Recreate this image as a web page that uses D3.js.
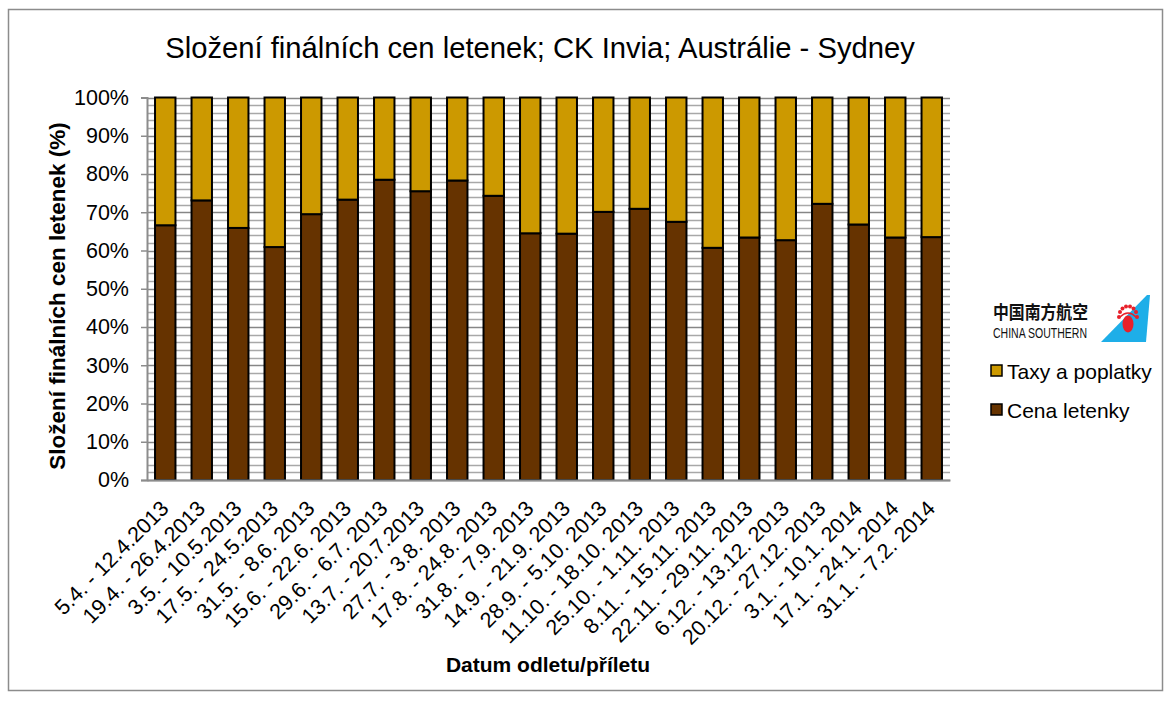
<!DOCTYPE html>
<html>
<head>
<meta charset="utf-8">
<script src="https://cdn.jsdelivr.net/npm/d3@7"></script>
<style>
  html, body { margin: 0; padding: 0; background: #fff; }
  svg { display: block; font-family: "Liberation Sans", Arial, sans-serif; }
</style>
</head>
<body>
<svg id="chart" width="1171" height="704"></svg>
<script>
// ---- data ----
const categories = [
  "5.4. - 12.4.2013", "19.4. - 26.4.2013", "3.5. - 10.5.2013", "17.5. - 24.5.2013",
  "31.5. - 8.6. 2013", "15.6. - 22.6. 2013", "29.6. - 6.7. 2013", "13.7. - 20.7.2013",
  "27.7. - 3.8. 2013", "17.8. - 24.8. 2013", "31.8. - 7.9. 2013", "14.9. - 21.9. 2013",
  "28.9. - 5.10. 2013", "11.10. - 18.10. 2013", "25.10. - 1.11. 2013", "8.11. - 15.11. 2013",
  "22.11. - 29.11. 2013", "6.12. - 13.12. 2013", "20.12. - 27.12. 2013", "3.1. - 10.1. 2014",
  "17.1. - 24.1. 2014", "31.1. - 7.2. 2014"
];
const cenaLetenky = [66.6, 73.1, 65.9, 60.9, 69.5, 73.3, 78.5, 75.5, 78.3, 74.3, 64.5,
                     64.4, 70.1, 70.9, 67.5, 60.7, 63.4, 62.7, 72.2, 66.8, 63.4, 63.5];
const taxyPoplatky = [33.4, 26.9, 34.1, 39.1, 30.5, 26.7, 21.5, 24.5, 21.7, 25.7, 35.5,
                      35.6, 29.9, 29.1, 32.5, 39.3, 36.6, 37.3, 27.8, 33.2, 36.6, 36.5];
const seriesNames = ["Cena letenky", "Taxy a poplatky"];
const seriesColors = ["#663300", "#CC9900"];
const yTicks = [0, 0.1, 0.2, 0.3, 0.4, 0.5, 0.6, 0.7, 0.8, 0.9, 1.0];
const minorTicks = d3.range(0, 51).map(i => i / 50);

const titleText = "Složení finálních cen letenek; CK Invia; Austrálie - Sydney";
const yTitle = "Složení finálních cen letenek (%)";
const xTitle = "Datum odletu/příletu";

// ---- layout ----
const svg = d3.select("#chart");
const W = 1171, H = 704;
const plot = { left: 147, right: 950, top: 97.5, bottom: 480 };

svg.append("rect").attr("width", W).attr("height", H).attr("fill", "#fff");
svg.append("rect").attr("x", 8.5).attr("y", 9.5).attr("width", 1154).attr("height", 681)
  .attr("fill", "none").attr("stroke", "#8c8c8c").attr("stroke-width", 1.5);

const rows = categories.map((c, i) => ({ cat: c, "Cena letenky": cenaLetenky[i], "Taxy a poplatky": taxyPoplatky[i] }));
const stack = d3.stack().keys(seriesNames).offset(d3.stackOffsetExpand);
const stacked = stack(rows);

const x = d3.scaleBand().domain(categories).range([plot.left, plot.right])
  .paddingInner(0.44).paddingOuter(0.22);
const y = d3.scaleLinear().domain([0, 1]).range([plot.bottom, plot.top]);

// gridlines
const g = svg.append("g");
g.selectAll("line.minor").data(minorTicks.filter(t => Math.round(t * 50) % 5 !== 0)).join("line")
  .attr("x1", plot.left).attr("x2", plot.right)
  .attr("y1", d => Math.round(y(d)) + 0.5).attr("y2", d => Math.round(y(d)) + 0.5)
  .attr("stroke", "#a8a8a8").attr("stroke-width", 1.4);
g.selectAll("line.major").data(yTicks).join("line")
  .attr("x1", plot.left).attr("x2", plot.right)
  .attr("y1", d => Math.round(y(d)) + 0.5).attr("y2", d => Math.round(y(d)) + 0.5)
  .attr("stroke", "#868686").attr("stroke-width", 1.6);

// bars
svg.append("g").selectAll("g").data(stacked).join("g")
  .attr("fill", (d, i) => seriesColors[i])
  .selectAll("rect").data(d => d).join("rect")
  .attr("x", d => x(d.data.cat))
  .attr("width", x.bandwidth())
  .attr("y", d => y(d[1]))
  .attr("height", d => y(d[0]) - y(d[1]))
  .attr("stroke", "#000").attr("stroke-width", 2);

// y axis
const yAxis = d3.axisLeft(y).tickValues(yTicks).tickFormat(d3.format(".0%")).tickSize(6).tickPadding(12);
const ya = svg.append("g").attr("transform", `translate(${plot.left},0)`).call(yAxis);
ya.select(".domain").attr("stroke", "#8c8c8c").attr("stroke-width", 2);
ya.selectAll(".tick line").attr("stroke", "#8c8c8c").attr("stroke-width", 1.5);
ya.selectAll(".tick text").attr("font-size", 21.5).attr("fill", "#000")
  .attr("font-family", "Liberation Sans, Arial, sans-serif");

// x axis
const xAxis = d3.axisBottom(x).tickSize(0).tickPadding(0);
const xa = svg.append("g").attr("transform", `translate(0,${plot.bottom})`).call(xAxis);
xa.select(".domain").attr("stroke", "#8c8c8c").attr("stroke-width", 2);
xa.selectAll(".tick text")
  .attr("font-size", 21.5).attr("fill", "#000")
  .attr("font-family", "Liberation Sans, Arial, sans-serif")
  .attr("text-anchor", "end")
  .attr("dy", "0.71em")
  .attr("transform", "translate(-6,19) rotate(-45)");

// titles
svg.append("text").attr("x", 540).attr("y", 58).attr("text-anchor", "middle")
  .attr("font-size", 29.2).attr("fill", "#000").text(titleText);
svg.append("text").attr("transform", "translate(65,296) rotate(-90)").attr("text-anchor", "middle")
  .attr("font-size", 22.5).attr("font-weight", "bold").attr("fill", "#000").text(yTitle);
svg.append("text").attr("x", 548).attr("y", 672).attr("text-anchor", "middle")
  .attr("font-size", 21).attr("font-weight", "bold").attr("fill", "#000").text(xTitle);

// logo
const logo = svg.append("g");
logo.append("text").attr("x", 993).attr("y", 319)
  .attr("font-family", "Noto Sans CJK SC").attr("font-weight", "bold").attr("font-size", 18)
  .attr("textLength", 95).attr("lengthAdjust", "spacingAndGlyphs").attr("fill", "#111").text("中国南方航空");
logo.append("text").attr("x", 993).attr("y", 337.5)
  .attr("font-family", "Liberation Sans Narrow, Liberation Sans, sans-serif").attr("font-size", 14)
  .attr("textLength", 94).attr("lengthAdjust", "spacingAndGlyphs").attr("fill", "#111").text("CHINA SOUTHERN");
logo.append("polygon").attr("points", "1101,342 1147,295 1150,295 1146,342").attr("fill", "#1EAEE8");
const flower = logo.append("g").attr("fill", "#E8202A");
flower.append("ellipse").attr("cx", 1128).attr("cy", 324).attr("rx", 5.5).attr("ry", 8.5);
[[-8, -5], [-5.5, -8.5], [-2, -10.5], [2, -10.5], [5.5, -8.5], [8, -5], [-9, 0], [9, 0]].forEach(([dx, dy]) =>
  flower.append("circle").attr("cx", 1128 + dx).attr("cy", 317 + dy).attr("r", 2));
flower.append("path").attr("d", "M1120,317 Q1128,309 1136,317").attr("fill", "none")
  .attr("stroke", "#E8202A").attr("stroke-width", 1.5);

// legend
const legendItems = [
  { name: "Taxy a poplatky", color: seriesColors[1], y: 371 },
  { name: "Cena letenky", color: seriesColors[0], y: 410 }
];
const lg = svg.append("g");
lg.selectAll("rect").data(legendItems).join("rect")
  .attr("x", 991).attr("y", d => d.y - 6).attr("width", 11).attr("height", 11)
  .attr("fill", d => d.color).attr("stroke", "#000").attr("stroke-width", 1.5);
lg.selectAll("text").data(legendItems).join("text")
  .attr("x", 1007).attr("y", d => d.y + 7.5).attr("font-size", 21).attr("fill", "#000")
  .text(d => d.name);
</script>
</body>
</html>
